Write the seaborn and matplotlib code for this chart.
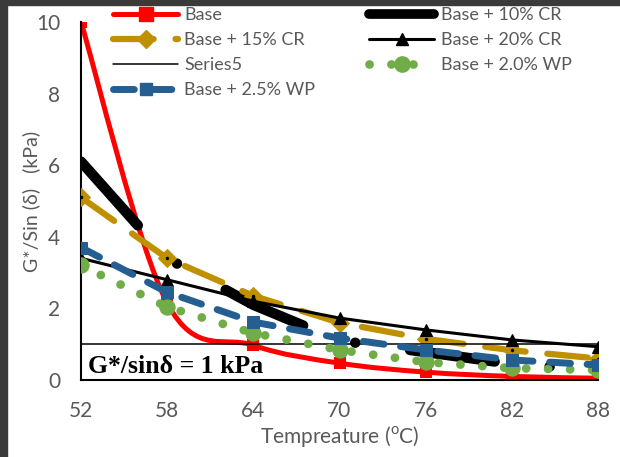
import numpy as np
import pandas as pd
import matplotlib.pyplot as plt
import seaborn as sns
from matplotlib.lines import Line2D
from matplotlib.path import Path
from matplotlib.patches import PathPatch, Rectangle

# values (G*/sin delta in kPa)
temps = [52, 58, 64, 70, 76, 82, 88]
base = [10.0, 2.15, 0.97, 0.47, 0.22, 0.10, 0.05]
cr10 = [6.1, 3.4, 2.1, 1.1, 0.78, 0.45, 0.28]
cr15 = [5.1, 3.4, 2.35, 1.6, 1.15, 0.83, 0.60]
cr20 = [3.4, 2.8, 2.2, 1.73, 1.40, 1.12, 0.93]
series5 = [1, 1, 1, 1, 1, 1, 1]
wp20 = [3.2, 2.04, 1.31, 0.84, 0.50, 0.33, 0.28]
wp25 = [3.7, 2.45, 1.62, 1.17, 0.84, 0.56, 0.42]

RED = "#FF0000"
GOLD = "#BF9000"
GREEN = "#70AD47"
BLUE = "#255E91"
GREY = "#595959"


def smooth_path(x, y):
    # Excel-like smoothed line: cubic bezier through every point
    pts = np.column_stack([x, y]).astype(float)
    verts = [pts[0]]
    codes = [Path.MOVETO]
    n = len(pts)
    for i in range(n - 1):
        p0 = pts[max(i - 1, 0)]
        p1 = pts[i]
        p2 = pts[i + 1]
        p3 = pts[min(i + 2, n - 1)]
        c1 = p1 + (p2 - p0) / 6.0
        c2 = p2 - (p3 - p1) / 6.0
        verts += [c1, c2, p2]
        codes += [Path.CURVE4] * 3
    return Path(verts, codes)


def main():
    sns.set_style("white")
    plt.rcParams["font.family"] = ["Lato", "DejaVu Sans"]
    plt.rcParams["mathtext.fontset"] = "custom"
    plt.rcParams["mathtext.rm"] = "Lato"

    df = pd.DataFrame({"T": temps, "base": base, "cr10": cr10, "cr15": cr15,
                       "cr20": cr20, "s5": series5, "wp20": wp20, "wp25": wp25})

    fig = plt.figure(figsize=(6.2, 4.57), dpi=100)
    ax = fig.add_axes([81 / 620, 1 - 380 / 457, 517 / 620, 358 / 457])

    # Base: smoothed red line + square markers
    ax.add_patch(PathPatch(smooth_path(df["T"], df["base"]), fill=False,
                           edgecolor=RED, lw=3.6, zorder=2))
    sns.scatterplot(data=df, x="T", y="base", marker="s", s=80, color=RED,
                    edgecolor=RED, linewidth=0, ax=ax, zorder=2)

    # Base + 10% CR: thick black dash-dot
    sns.lineplot(data=df, x="T", y="cr10", color="black", lw=7.5,
                 dashes=(8.2, 5.3, 0.01, 5.3), dash_capstyle="round", ax=ax, zorder=3)

    # Base + 15% CR: gold long dash with diamonds
    sns.lineplot(data=df, x="T", y="cr15", color=GOLD, lw=4.5,
                 dashes=(6.5, 3.5), dash_capstyle="round", marker="D", markersize=9,
                 markeredgecolor=GOLD, ax=ax, zorder=4)
    ax.plot(temps, cr15, linestyle="none", marker="o", markersize=1.5, color="black", zorder=4)

    # Base + 20% CR: thin black with triangles
    sns.lineplot(data=df, x="T", y="cr20", color="black", lw=2.2, marker="^",
                 markersize=9, markeredgecolor="black", ax=ax, zorder=5)

    # Series5: 1 kPa reference line
    sns.lineplot(data=df, x="T", y="s5", color="black", lw=1.1, ax=ax, zorder=5)

    # Base + 2.0% WP: green round dots with circles
    sns.lineplot(data=df, x="T", y="wp20", color=GREEN, lw=6.3,
                 dashes=(0.01, 2.5), dash_capstyle="round", marker="o", markersize=11,
                 markeredgecolor=GREEN, ax=ax, zorder=6)

    # Base + 2.5% WP: blue dashes with squares
    sns.lineplot(data=df, x="T", y="wp25", color=BLUE, lw=5,
                 dashes=(3.0, 2.4), dash_capstyle="round", marker="s", markersize=9,
                 markeredgecolor=BLUE, ax=ax, zorder=7)

    ax.text(52.5, 0.2, "G*/sin\u03b4 = 1 kPa", family="Liberation Serif",
            fontweight="bold", fontsize=18.5, color="black", zorder=8)

    ax.set_xlim(52, 88)
    ax.set_ylim(0, 10)
    ax.set_xticks(range(52, 89, 6))
    ax.set_yticks(range(0, 11, 2))
    ax.tick_params(direction="in", length=5, width=1.2, colors="black",
                   labelcolor=GREY, labelsize=15, pad=15)
    sns.despine(ax=ax)
    for side in ["left", "bottom"]:
        ax.spines[side].set_linewidth(1.5)
        ax.spines[side].set_color("black")

    ax.set_xlabel(r"Tempreature ($^{\mathrm{o}}$C)", fontsize=15, color=GREY, labelpad=2)
    ax.set_ylabel("G*/Sin (\u03b4)   (kPa)", fontsize=14, color=GREY)
    ax.yaxis.set_label_coords(-41 / 517, 0.5)

    handles = [
        Line2D([], [], color=RED, lw=3.6, marker="s", markersize=9.5),
        Line2D([], [], color=GOLD, lw=4.5, dashes=(6.5, 3.5), dash_capstyle="round",
               marker="D", markersize=9),
        Line2D([], [], color="black", lw=1.1),
        Line2D([], [], color=BLUE, lw=5, dashes=(3.0, 2.4), dash_capstyle="round",
               marker="s", markersize=9),
        Line2D([], [], color="black", lw=7, solid_capstyle="round"),
        Line2D([], [], color="black", lw=2.2, marker="^", markersize=9),
        Line2D([], [], color=GREEN, lw=6.3, dashes=(0.01, 2.5), dash_capstyle="round",
               marker="o", markersize=11),
    ]
    labels = ["Base", "Base + 15% CR", "Series5", "Base + 2.5% WP",
              "Base + 10% CR", "Base + 20% CR", "Base + 2.0% WP"]
    ax.legend(handles, labels, ncol=2, loc="upper left",
              bbox_to_anchor=(113 / 620, 1 - 7 / 457), bbox_transform=fig.transFigure,
              frameon=False, fontsize=13, labelcolor=GREY, handlelength=3.6,
              handletextpad=0.35, columnspacing=3.0, labelspacing=0.5,
              borderpad=0, borderaxespad=0)

    # dark frame on the top and left edges of the picture
    fig.patches.append(Rectangle((0, 1 - 5 / 457), 1, 5 / 457, transform=fig.transFigure,
                                 color="#3a3a3a", zorder=10))
    fig.patches.append(Rectangle((0, 0), 7 / 620, 1, transform=fig.transFigure,
                                 color="#3a3a3a", zorder=10))

    fig.savefig("out.png", dpi=100)


if __name__ == "__main__":
    main()
